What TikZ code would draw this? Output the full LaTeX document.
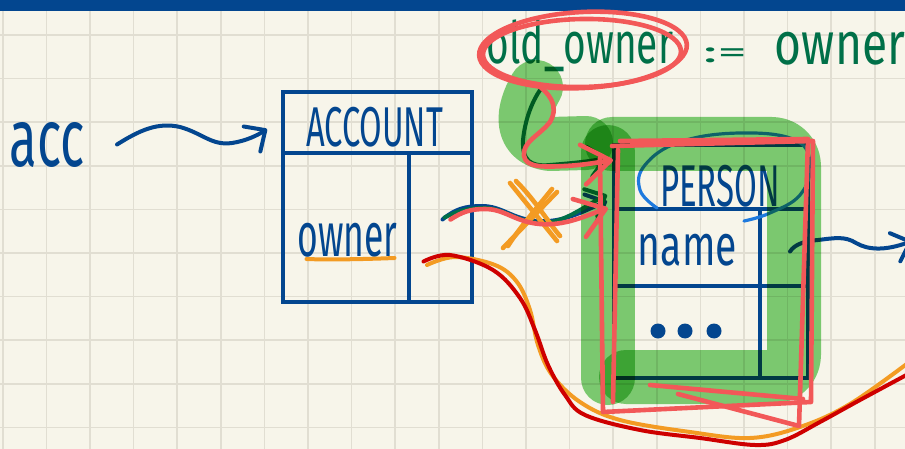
\documentclass[tikz,border=0pt]{standalone}
\usepackage{fontspec}
\setmainfont{Fira Sans}
\usepackage{graphicx}
\usetikzlibrary{arrows.meta,calc}

\definecolor{paper}{RGB}{247,245,234}
\definecolor{gridline}{RGB}{225,222,210}
\definecolor{ink}{RGB}{3,70,143}
\definecolor{inkgreen}{RGB}{0,112,72}
\definecolor{hlgreen}{RGB}{127,209,121}
\definecolor{coral}{RGB}{242,88,88}
\definecolor{crimson}{RGB}{206,0,0}
\definecolor{amber}{RGB}{243,155,35}
\definecolor{skyink}{RGB}{30,122,222}

% handwritten-size word: width, total height, text
\newcommand\inkword[3]{\resizebox*{#1pt}{#2pt}{#3}}

\tikzset{
  pen/.style={line width=4pt, line cap=round, line join=round},
  fatpen/.style={line width=4.6pt, line cap=round, line join=round},
  cellbox/.style={rectangle, draw=ink, line width=3.4pt, inner sep=0pt, outer sep=0pt},
  word/.style={inner sep=0pt, outer sep=0pt},
  barb/.style={-{Straight Barb[round,length=16pt,width=30pt]}},
  bigbarb/.style={-{Straight Barb[round,length=28pt,width=40pt]}},
  highlight/.style={draw=hlgreen, line width=54pt, line cap=round, line join=round},
}

\begin{document}
\begin{tikzpicture}[x=1pt,y=-1pt]
% paper and grid
\fill[paper] (0,0) rectangle (905,449);
\useasboundingbox (0,0) rectangle (905,449);
\foreach \i in {0,...,20} {\draw[gridline, line width=1.6pt] ({2.7+43.6*\i},0) -- ({2.7+43.6*\i},449);}
\foreach \j in {0,...,9} {\draw[gridline, line width=1.6pt] (0,{35+43.6*\j}) -- (905,{35+43.6*\j});}
\fill[ink] (0,0) rectangle (905,11);

% ACCOUNT object
\node[cellbox, minimum width=189pt, minimum height=61pt] (acchead) at (377.5,122.5) {};
\node[cellbox, minimum width=126pt, minimum height=149pt] (accfield) at (346,227.5) {};
\node[cellbox, minimum width=63pt, minimum height=149pt] (accslot) at (440.5,227.5) {};
\node[word, text=ink] (acctitle) at (374.5,127) {\inkword{137}{40}{ACCOUNT}};
\node[word, text=ink] (ownerlabel) at (347.5,240) {\inkword{100}{34}{owner}};

% PERSON object
\node[cellbox, minimum width=194pt, minimum height=64pt] (personhead) at (711,177) {};
\node[cellbox, minimum width=146pt, minimum height=77pt] (namefield) at (687,247.5) {};
\node[cellbox, minimum width=48pt, minimum height=77pt] (nameslot) at (784,247.5) {};
\node[cellbox, minimum width=146pt, minimum height=92pt] (restfield) at (687,332) {};
\node[cellbox, minimum width=48pt, minimum height=92pt] (restslot) at (784,332) {};
\node[word, text=ink] (persontitle) at (720,186) {\inkword{120}{42}{PERSON}};
\node[word, text=ink] (namelabel) at (687.5,250) {\inkword{99}{32}{name}};
\foreach \x in {658,685,714} {\fill[ink] (\x,331) circle (7.5pt);}

% the variable acc
\node[word, text=ink] (acc) at (47.5,144.5) {\inkword{75}{45}{acc}};
\coordinate (accin) at ($(acchead.west)+(-16,6.5)$);
\draw[ink, pen, barb] ([xshift=32pt]acc.east) .. controls (140,130) and (158,122) .. (180,127)
  .. controls (202,133) and (212,146) .. (232,143) .. controls (246,141) and (258,135) .. (accin);

% name points further right
\coordinate (nameout) at (912,241);
\draw[ink, pen, barb] ([xshift=6pt,yshift=-4pt]nameslot.center) .. controls (795,244) and (805,241) .. (818,240)
  .. controls (835,238) and (845,236) .. (856,243) .. controls (868,250) and (885,251) .. (nameout);

% original owner reference
\coordinate (personleft) at ($(namefield.north west)+(-7,-8)$);
\draw[ink, pen, barb] ([xshift=2pt,yshift=8pt]accslot.center) .. controls (455,209) and (465,206) .. (482,206)
  .. controls (502,206) and (512,219) .. (537,221) .. controls (562,223) and (582,212) .. (personleft);

% circled class name
\draw[skyink, line width=3.2pt, line cap=round] plot[smooth, tension=0.7] coordinates
  {(657,208) (640,190) (645,165) (680,142) (740,133) (795,140) (810,165) (800,195) (770,213) (744,221)};

% assignment written above
\node[word, text=inkgreen] (oldowner) at (580,46) {\inkword{186}{52}{old\_owner}};
\node[word, text=inkgreen] (assign) at (725,55) {\inkword{44}{15}{:=}};
\node[word, text=inkgreen] (newowner) at (840,48.5) {\inkword{130}{33}{owner}};

\coordinate (persontop) at ($(personhead.west)+(-7,-19)$);
\draw[inkgreen, pen, barb] ([xshift=-37pt,yshift=-14pt]oldowner.south) .. controls (532,100) and (525,120) .. (523,140)
  .. controls (522,160) and (530,167) .. (550,165) .. controls (575,163) and (592,161) .. (persontop);
\coordinate (personleftb) at ($(namefield.north west)+(-7,-14)$);
\draw[inkgreen, pen, barb] ([xshift=4pt,yshift=10pt]accslot.center) .. controls (458,211) and (467,208) .. (484,208)
  .. controls (504,208) and (514,221) .. (539,223) .. controls (564,224) and (584,206) .. (personleftb);

% marker highlight around the object
\begin{scope}[blend mode=multiply]
  \draw[highlight] (536,87) .. controls (522,110) and (518,140) .. (550,144) -- (586,143);
  \draw[highlight] (608,152) -- (608,378);
  \draw[highlight, rounded corners=22pt] (612,144) -- (794,144) -- (794,377) -- (626,377);
\end{scope}

% underline and crossing-out
\draw[amber, pen] ([xshift=9pt,yshift=-2pt]ownerlabel.south west) .. controls (330,260) and (370,259) .. ([xshift=-3pt,yshift=-1pt]ownerlabel.south east);
\draw[amber, fatpen] (510,183) -- (557,241);
\draw[amber, fatpen] (516,181) .. controls (535,200) and (548,222) .. (560,236);
\draw[amber, fatpen] (557,192) -- (503,248);
\draw[amber, fatpen] (552,189) .. controls (535,210) and (518,230) .. (508,246);

% the reference goes elsewhere
\coordinate (slotfoot) at ($(accslot.center)+(-17,34)$);
\draw[amber, pen] plot[smooth, tension=0.6] coordinates
  {(427,265) (455,257) (495,265) (517,282) (530,310) (538,345) (552,375) (580,402) (620,420) (690,432) (750,438) (800,427) (850,404) (912,360)};
\draw[crimson, pen] plot[smooth, tension=0.6] coordinates
  {(slotfoot) (450,255) (493,270) (520,298) (535,330) (548,365) (565,395) (585,415) (640,430) (700,438) (755,445) (785,440) (820,422) (860,400) (912,372)};

% red marks
\draw[coral, fatpen, rotate around={3:(583,50)}] (583,50) ellipse [x radius=104, y radius=38];
\draw[coral, fatpen, rotate around={1:(582,53)}] (582,53) ellipse [x radius=99, y radius=34];
\coordinate (ringfoot) at (536,84);
\draw[coral, fatpen, bigbarb] (ringfoot) .. controls (548,92) and (560,105) .. (550,122)
  .. controls (540,135) and (522,142) .. (524,156) .. controls (526,168) and (545,167) .. (565,166)
  .. controls (585,165) and (600,162) .. ($(personhead.west)+(-1,-17)$);
\draw[coral, fatpen, bigbarb] ([xshift=10pt,yshift=8pt]accslot.center) .. controls (462,212) and (470,209) .. (485,209)
  .. controls (505,209) and (515,222) .. (540,224) .. controls (565,226) and (585,216) .. ($(namefield.north west)+(-6,-1)$);
\draw[coral, fatpen] (600,158) -- (603,412) -- (811,402) -- (813,141) -- (612,146);
\draw[coral, fatpen] (618,150) -- (613,402);
\draw[coral, fatpen] (620,141) -- (808,139) -- (799,426) -- (678,394);
\draw[coral, fatpen] (650,385) -- (803,399);
\end{tikzpicture}
\end{document}
